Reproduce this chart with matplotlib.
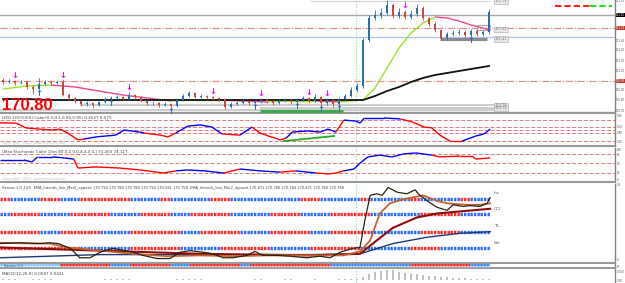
import numpy as np
import matplotlib
matplotlib.use("Agg")
import matplotlib.pyplot as plt
from matplotlib.collections import LineCollection
from matplotlib.patches import Rectangle

# ---- price candles (bar index 0..81) ----
first_open = 171.00
closes = [170.98, 170.99, 170.97, 170.98, 170.93, 170.91, 170.96, 170.98, 170.97, 170.98,
          170.85, 170.82, 170.79, 170.76, 170.77, 170.75, 170.78, 170.81, 170.82, 170.83,
          170.81, 170.85, 170.83, 170.79, 170.77, 170.77, 170.75, 170.76, 170.74, 170.80,
          170.84, 170.87, 170.83, 170.84, 170.83, 170.82, 170.81, 170.73, 170.76, 170.77,
          170.79, 170.77, 170.78, 170.80, 170.79, 170.77, 170.79, 170.80, 170.78, 170.80,
          170.82, 170.79, 170.83, 170.77, 170.80, 170.76, 170.81, 170.84, 170.90, 170.94,
          171.40, 171.62, 171.65, 171.67, 171.75, 171.64, 171.68, 171.63, 171.66, 171.72,
          171.62, 171.56, 171.50, 171.42, 171.46, 171.47, 171.48, 171.45, 171.49, 171.46,
          171.48, 171.68]
highs = [171.02, 171.01, 171.00, 171.00, 170.99, 170.95, 171.02, 171.00, 171.00, 171.00,
         171.01, 170.87, 170.83, 170.80, 170.79, 170.78, 170.79, 170.83, 170.84, 170.85,
         170.84, 170.88, 170.86, 170.84, 170.80, 170.79, 170.78, 170.78, 170.77, 170.82,
         170.86, 170.89, 170.88, 170.86, 170.85, 170.84, 170.83, 170.82, 170.78, 170.79,
         170.81, 170.80, 170.80, 170.82, 170.81, 170.80, 170.81, 170.82, 170.81, 170.82,
         170.84, 170.83, 170.86, 170.84, 170.82, 170.81, 170.83, 170.86, 170.93, 170.97,
         171.42, 171.65, 171.70, 171.72, 171.80, 171.77, 171.72, 171.70, 171.70, 171.76,
         171.74, 171.63, 171.58, 171.51, 171.48, 171.50, 171.51, 171.50, 171.51, 171.51,
         171.50, 171.71]
lows = [170.96, 170.97, 170.95, 170.96, 170.91, 170.86, 170.90, 170.95, 170.95, 170.96,
        170.84, 170.80, 170.77, 170.74, 170.74, 170.72, 170.74, 170.77, 170.80, 170.81,
        170.79, 170.80, 170.81, 170.78, 170.75, 170.75, 170.73, 170.74, 170.72, 170.73,
        170.79, 170.83, 170.82, 170.82, 170.81, 170.80, 170.79, 170.71, 170.72, 170.75,
        170.76, 170.75, 170.76, 170.77, 170.77, 170.75, 170.76, 170.78, 170.76, 170.77,
        170.79, 170.77, 170.78, 170.74, 170.75, 170.73, 170.75, 170.80, 170.83, 170.88,
        170.92, 171.38, 171.60, 171.62, 171.65, 171.62, 171.62, 171.61, 171.61, 171.64,
        171.60, 171.54, 171.48, 171.40, 171.40, 171.44, 171.45, 171.43, 171.43, 171.44,
        171.44, 171.46]

# moving averages, read at these bars
ma_bars = [0, 4, 8, 12, 16, 20, 24, 28, 32, 36, 40, 44, 48, 52, 56, 58, 60, 62, 64, 66,
           68, 70, 72, 74, 76, 78, 80, 81]
fast_ma = [170.91, 170.94, 170.95, 170.93, 170.89, 170.85, 170.82, 170.79, 170.80, 170.80,
           170.79, 170.78, 170.79, 170.79, 170.78, 170.79, 170.80, 170.92, 171.12, 171.32,
           171.47, 171.57, 171.63, 171.62, 171.59, 171.55, 171.52, 171.50]
slow_ma = [170.81, 170.81, 170.80, 170.80, 170.80, 170.80, 170.80, 170.80, 170.80, 170.80,
           170.80, 170.80, 170.80, 170.80, 170.80, 170.80, 170.80, 170.84, 170.89, 170.93,
           170.98, 171.02, 171.05, 171.07, 171.09, 171.11, 171.13, 171.14]

sell_arrows = [2, 10, 21, 35, 43, 51, 54, 67]
buy_arrows = [6, 18, 28, 42, 49, 53, 56, 78]

# ---- LRSI ----
rsi_x = [-0.5, 2.2, 3.8, 6.2, 8.2, 9.5, 10.8, 12.5, 13.5, 15.5, 18.8, 20.2, 22.8, 23.5, 26.2,
         27.5, 28.8, 30.8, 32.8, 34.8, 36.5, 39.5, 41.5, 42.8, 46.2, 47.2, 48.2, 50.8, 52.8,
         54.2, 55.5, 56.8, 58.8, 59.5, 60.2, 63.5, 66.2, 68.2, 70.2, 71.5, 72.8, 74.5, 76.5,
         78.8, 80.2, 81.2]
rsi_v = [0.74, 0.73, 0.57, 0.53, 0.50, 0.53, 0.40, 0.17, 0.20, 0.27,
         0.33, 0.50, 0.43, 0.40, 0.33, 0.27, 0.40, 0.63, 0.67, 0.60,
         0.37, 0.33, 0.60, 0.40, 0.17, 0.23, 0.43, 0.47, 0.43, 0.53,
         0.43, 0.83, 0.80, 0.73, 0.90, 0.90, 0.87, 0.77, 0.60, 0.57,
         0.33, 0.13, 0.13, 0.30, 0.37, 0.53]
rsi_col = "rrrrrrrr" "bbbbb" "rrr" "bbbb" "r" "b" "rrr" "bbbbb" "r" "bbbbb" "rrrrrr" "bbb"
rsi_levels = [0.85, 0.60, 0.50, 0.40, 0.15]

# ---- Ultra stochastic ----
sto_x = [-0.5, 3.5, 4.8, 5.8, 8.2, 10.2, 11.8, 12.5, 15.5, 19.5, 22.8, 26.8, 28.8, 30.8,
         33.5, 36.8, 39.5, 42.8, 46.2, 48.8, 52.2, 54.2, 55.5, 56.8, 58.5, 59.5, 60.8, 62.8,
         64.8, 66.8, 68.8, 71.5, 72.8, 76.2, 78.2, 78.8, 81.2]
sto_v = [61, 61, 55, 71, 71, 68, 64, 35, 39, 35, 29, 19, 26, 29, 26, 19, 32, 26, 22, 26,
         19, 16, 19, 26, 32, 51, 71, 77, 71, 81, 84, 77, 71, 74, 74, 64, 68]
sto_col = "bbbbbb" "rrrrrr" "bbb" "r" "bb" "r" "b" "rrr" "bbbbbbbb" "rrrrr"
sto_levels = [80, 50, 20]

# ---- Senses panel ----
blk_x = [-0.5, 2.8, 6.2, 7.8, 9.2, 11.2, 12.8, 14.5, 16.2, 18.3, 21.7, 23.3, 25.7, 27.8,
         29.5, 31.2, 33.3, 35.0, 36.7, 38.3, 40.7, 42.0, 43.3, 45.7, 47.8, 50.7, 52.8, 54.5,
         56.2, 58.3, 59.5, 60.3, 61.2, 62.3, 63.2, 64.2, 65.7, 67.3, 68.7, 69.2, 70.7, 72.3,
         74.0, 75.0, 76.7, 77.8, 79.5, 80.7, 81.2]
blk_v = [24, 25, 24, 25, 24, 18, 6, 6, 13, 18, 13, 9, 5, 5, 13, 15, 13, 11, 6, 6,
         9, 14, 9, 9, 8, 6, 8, 6, 13, 18, 19, 53, 85, 87, 85, 95, 89, 87, 92, 87,
         78, 70, 66, 73, 71, 72, 71, 75, 82]
brn_x = [-0.5, 5.0, 7.8, 10.7, 16.2, 21.7, 27.3, 32.8, 38.3, 44.0, 52.8, 56.7, 59.5, 61.2,
         62.8, 64.5, 66.7, 70.0, 72.3, 74.0, 77.3, 79.5, 81.2]
brn_v = [25, 24, 24, 19, 15, 11, 8, 9, 8, 9, 9, 9, 14, 28, 62, 75, 80, 85, 78, 75, 73, 73, 75]
mrn_x = [-0.5, 16.2, 32.8, 51.2, 59.5, 62.3, 65.0, 69.0, 72.3, 76.7, 81.2]
mrn_v = [19, 15, 11, 9, 11, 28, 44, 57, 62, 65, 68]
nav_x = [-0.5, 16.2, 32.8, 51.2, 59.5, 65.0, 70.7, 76.2, 81.2]
nav_v = [6, 10, 10, 10, 11, 24, 32, 37, 39]
row_levels = [81, 61, 39, 18]
row_labels = ["Inc", "CCI", "TL..", "Ent"]
row_cols = ["rbbbrrbbrrrrrbbbrbbbbrrbbbbbbbrrbbbbrbbbbrbbbbrbb",
            "brrrbbbrrrrbbbrrrbbrrrrbbbbrrrbbbrrrrbbbbbrrrrbbb",
            "rrrrbbrrrrbbbrrrrrbbrrrrbbbrrrrbbrrrrbbbbbrrrrbbb",
            "rrrrrrrrbbbbbrrrrrbbbbrrrrrbbbbrrrrrbbbbbrrrbbbbb"]
strip_cols = "cccccc" "rrrrr" "bb" "rrrr" "bb" "rrrrr" "b" "rrrrrrrr" "bbbbbbbb" "rrrrrr" "bb"

# ---- MACD histogram ----
macd = [0.5, 0.4, 0.4, 0.3, 0.3, 0.4, 0.5, 0.5, 0.4, 0.3,
        0.2, 0.2, 0.3, 0.3, 0.2, 0.2, 0.3, 0.4, 0.4, 0.5,
        0.5, 0.4, 0.3, 0.3, 0.2, 0.2, 0.2, 0.3, 0.3, 0.4,
        0.5, 0.5, 0.4, 0.4, 0.3, 0.3, 0.2, 0.2, 0.3, 0.3,
        0.3, 0.3, 0.4, 0.4, 0.3, 0.3, 0.3, 0.4, 0.4, 0.3,
        0.3, 0.3, 0.4, 0.3, 0.3, 0.3, 0.4, 0.4, 0.5, 1.0,
        3.0, 6.0, 8.0, 9.0, 9.5, 9.5, 8.0, 7.0, 6.0, 5.5,
        5.0, 4.0, 3.5, 3.0, 2.5, 2.0, 1.8, 1.5, 1.2, 1.0,
        0.8, 0.6]

RED, BLUE = "#ff0000", "#0000ff"
GRID = "#999999"
W, H = 625, 283
XMAX = 102
END = 81.2
VLINE = 58.8
SMALL = dict(fontsize=2.2, family="Liberation Sans")


def panel(top, bottom):
    ax = fig.add_axes([0, 1 - bottom / H, 615 / W, (bottom - top) / H])
    ax.set_xlim(-0.5, XMAX)
    ax.set_xticks([])
    ax.set_yticks([])
    for s in ["top", "left"]:
        ax.spines[s].set_visible(False)
    ax.spines["bottom"].set_color(GRID)
    ax.spines["bottom"].set_linewidth(1.5)
    ax.spines["right"].set_color("#808080")
    ax.spines["right"].set_linewidth(1)
    ax.axvline(VLINE, color="#7fe3b0", lw=0.8, ls=(0, (1, 1.5)), zorder=1)
    return ax


def colored(ax, x, y, cols, lw, cmap):
    segs = [[(x[k], y[k]), (x[k + 1], y[k + 1])] for k in range(len(x) - 1)]
    ax.add_collection(LineCollection(segs, colors=[cmap[c] for c in cols], linewidths=lw, zorder=3))


fig = plt.figure(figsize=(W / 100, H / 100), dpi=100)

# ================= price panel =================
ax = panel(0, 113)
ax.set_ylim(170.67, 171.80)
opens = [first_open] + closes[:-1]
idx = np.arange(len(closes))
for i in idx:
    o, c = opens[i], closes[i]
    col = "#2b6cb0" if c >= o else "#c9473b"
    ax.vlines(i, lows[i], highs[i], color=col, lw=0.6, zorder=4)
    ax.bar(i, max(abs(c - o), 0.004), bottom=min(o, c), width=0.45, color=col, zorder=5)

for y, c, ls, lw in [(171.65, "#a8a8a8", "-", 1.0), (171.52, "#e88a8a", "-.", 0.8),
                     (171.43, "#a9c4e6", "-", 0.9), (170.99, "#e88a8a", "-.", 0.8),
                     (170.68, "#bbbbbb", "-", 1.0)]:
    ax.axhline(y, color=c, ls=ls, lw=lw, zorder=2)
ax.hlines(170.745, 12.8, 83.7, color="#c4c4c4", lw=1.2, zorder=2)
ax.hlines(170.72, 42.8, 83.7, color="#c4c4c4", lw=1.2, zorder=2)
ax.hlines(170.70, -0.5, 83.7, color="#c4c4c4", lw=1.2, zorder=2)
ax.hlines(171.79, 51.2, 81.2, color="#d0d0d0", lw=0.8, zorder=2)
ax.hlines(171.41, 72.8, 80.7, color="#8c8c8c", lw=2.2, zorder=2)
ax.add_patch(Rectangle((79.0, 171.50), 2.2, 0.05, fill=False, ec="#b0b0b0", lw=0.8, zorder=2))
ax.hlines(170.69, 42.8, 56.7, color="#3aaa4a", lw=2.2, zorder=6)
for y, t in [(171.79, "171.79"), (171.505, "171.51"), (171.41, "171.41"),
             (170.745, "170.74"), (170.715, "170.72")]:
    ax.text(82.0, y, t, fontsize=2.6, color="#777777", va="center",
            bbox=dict(boxstyle="square,pad=0.2", fc="#e6e6e6", ec="#aaaaaa", lw=0.4))

slope_cols = ["g" if fast_ma[k + 1] >= fast_ma[k] else "p" for k in range(len(fast_ma) - 1)]
colored(ax, ma_bars, fast_ma, slope_cols, 1.0, {"g": "#9be22d", "p": "#f0468c"})
ax.plot(ma_bars, slow_ma, color="#111111", lw=1.3, zorder=3)

for i in sell_arrows:
    ax.text(i, highs[i] - 0.005, "\u2193", color="#ff00ff", fontsize=6, fontweight="bold",
            ha="center", va="bottom", zorder=7)
for i in buy_arrows:
    ax.text(i, lows[i] + 0.01, "\u2191", color="#2a6fb5", fontsize=6, fontweight="bold",
            ha="center", va="top", zorder=7)

ax.hlines(171.74, 92, 97.8, color="#ff2020", lw=1.5, ls=(0, (3, 1.5)))
ax.hlines(171.74, 97.8, 101.5, color="#22dd22", lw=1.5, ls=(0, (3, 1.5)))

ax.text(0.003, 0.03, "170.80", transform=ax.transAxes, color="#ff0000", fontsize=12,
        fontweight="bold", family="Liberation Sans", va="baseline", zorder=8)

ax.yaxis.tick_right()
ax.set_yticks([170.70, 170.80, 170.90, 171.10, 171.20, 171.30, 171.40, 171.79])
ax.tick_params(axis="y", length=0, pad=0.8, colors="#555555")
for lab in ax.get_yticklabels():
    lab.set_fontsize(2.2)
    lab.set_family("Liberation Sans")
for y, t, fc in [(171.65, "171.65", "black"), (171.52, "171.52", "#c0392b"),
                 (170.99, "170.99", "#c0392b")]:
    ax.text(1.002, (y - 170.67) / 1.13, t, transform=ax.transAxes, color="white",
            va="center", clip_on=False, **SMALL,
            bbox=dict(boxstyle="square,pad=0.15", fc=fc, ec="none"))

# ================= LRSI panel =================
ax = panel(114.5, 146)
ax.set_ylim(-0.033, 1.017)
for lv in rsi_levels:
    ax.axhline(lv, color="#e07a7a", lw=0.7, ls=(0, (4, 2)), zorder=2)
colored(ax, rsi_x, rsi_v, rsi_col, 1.0, {"r": RED, "b": BLUE})
ax.plot([46.8, 55.2], [0.13, 0.30], color="#22aa22", lw=1.3, zorder=4)
ax.text(0.003, 0.86, "LRSI 2(0)%0(0) Color(0.0,0.1,0.95,0.95) 0.4527 0.575",
        transform=ax.transAxes, fontsize=3, color="#444444")
ax.text(0.003, 0.05, "Copyright\u00a9 2011, www.forex-tsd.com", transform=ax.transAxes,
        fontsize=2.4, color="#bbbbbb")

# ================= Stochastic panel =================
ax = panel(148, 182)
ax.set_ylim(-10, 100)
for lv in sto_levels:
    ax.axhline(lv, color="#e07a7a", lw=0.7, ls=(0, (4, 2)), zorder=2)
colored(ax, sto_x, sto_v, sto_col, 1.0, {"r": RED, "b": BLUE})
ax.text(0.003, 0.86, "Ultra Stochastic Color 10m 80.0,1.0,0.4,4,4 (L) 71.403 74.117",
        transform=ax.transAxes, fontsize=3, color="#444444")
ax.text(0.003, 0.05, "Copyright\u00a9 2011, www.forex-tsd.com", transform=ax.transAxes,
        fontsize=2.4, color="#bbbbbb")

# ================= Senses panel =================
ax = panel(183.5, 262.5)
ax.set_ylim(0, 100)
for lv, s, lab in zip(row_levels, row_cols, row_labels):
    w = (END + 0.5) / len(s)
    for k, c in enumerate(s):
        ax.hlines(lv, -0.5 + k * w, -0.5 + (k + 1) * w, color="#ff2a2a" if c == "r" else "#2a6aff",
                  lw=2.4, ls=(0, (0.7, 0.35)), zorder=2)
    ax.text(81.8, lv + 6, lab, fontsize=3, color="#555555")
ax.plot(nav_x, nav_v, color="#1d3b6e", lw=1.0, zorder=3)
ax.plot(mrn_x, mrn_v, color="#8b0d0d", lw=1.5, zorder=3)
ax.plot(brn_x, brn_v, color="#c4642c", lw=1.3, zorder=4)
ax.plot(blk_x, blk_v, color="#2b2410", lw=0.9, zorder=5)
ax.text(0.003, 0.93, "Senses 1.0_1(H)  EMA_Intends_line_Mar2_oppozit 170.794 170.780 170.780 "
        "170.794 170.581 170.758  EMA_Intends_line_Mar2_oppozit 170.871 170.780 170.784 "
        "170.871 170.780 170.788", transform=ax.transAxes, fontsize=2.6, color="#444444")

# ================= signal strip =================
ax = panel(263.5, 268)
ax.set_ylim(0, 1)
w = (END + 0.5) / len(strip_cols)
cmap = {"c": "#7cc4ff", "r": "#ff2a2a", "b": "#3a8cf5"}
for k, c in enumerate(strip_cols):
    ax.bar(-0.5 + k * w, 1, width=w, align="edge", color=cmap[c], lw=0, zorder=2)
ax.vlines(np.arange(-0.5, END, 0.5), 0, 1, color="white", lw=0.3, zorder=3)
ax.axhline(0.5, xmax=(END + 0.5) / (XMAX + 0.5), color="white", lw=0.4, zorder=3)
ax.text(0.2, 0.5, "Senses 1.0", fontsize=2.4, color="#335577", va="center", zorder=4)

# ================= MACD panel =================
ax = panel(268.5, 283)
ax.spines["bottom"].set_visible(False)
ax.set_ylim(-3, 11)
ax.bar(idx, macd, width=0.3, color="#c2c2c2", zorder=2)
ax.text(0.003, 0.55, "MACD(12,26,9) 0.0587 0.0431", transform=ax.transAxes,
        fontsize=3, color="#444444")

# right-side scale labels of the indicator panels
for ypx, t in [(116, "0.85"), (127, "0.60"), (133, "0.40"), (142, "0.15"),
               (150, "100"), (155, "80"), (164, "50"), (173, "20"), (180, "0"),
               (185, "2.3"), (260, "0"), (266, "ps"), (272, "0.059"), (281, "0.00")]:
    fig.text(616.5 / W, 1 - ypx / H, t, color="#555555", va="center", **SMALL)

fig.savefig("out.png", dpi=100)
